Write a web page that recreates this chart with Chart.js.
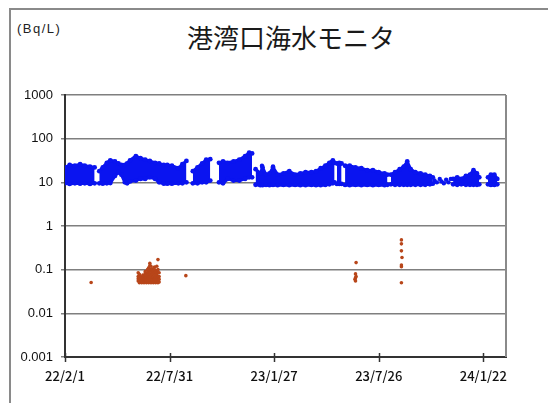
<!DOCTYPE html>
<html>
<head>
<meta charset="utf-8">
<script src="https://cdn.jsdelivr.net/npm/chart.js@4.4.1/dist/chart.umd.min.js"></script>
<style>
  html, body { margin: 0; padding: 0; background: #fff; }
  #wrap { position: relative; width: 548px; height: 403px; overflow: hidden; }
  #frame { position: absolute; left: 9px; top: 8px; width: 620px; height: 500px; border: 2px solid #8a8a8a; }
  #unit { position: absolute; left: 17px; top: 21px; font: 13px "Liberation Sans", Arial, sans-serif; letter-spacing: 1.5px; color: #222; }
  #title { position: absolute; left: 0; top: 18px; width: 582px; text-align: center; font: 26px "Noto Sans CJK JP", sans-serif; color: #1a1a1a; }
  canvas { position: absolute; left: 0; top: 0; }
</style>
</head>
<body>
<div id="wrap">
  <div id="frame"></div>
  <div id="unit">(Bq/L)</div>
  <div id="title">港湾口海水モニタ</div>
  <canvas id="grafico" width="548" height="403"></canvas>
</div>
<script>
// ======= Dados (dias desde 22/2/1) =======
const xTickDays = [0, 180, 360, 540, 720];
const xTickLabels = ["22/2/1", "22/7/31", "23/1/27", "23/7/26", "24/1/22"];
const yTickValues = [1000, 100, 10, 1, 0.1, 0.01, 0.001];
const yTickLabels = ["1000", "100", "10", "1", "0.1", "0.01", "0.001"];

// faixa azul (envelope superior / inferior), null = sem dados
const blueDays = [0, 8, 17, 26, 34, 43, 51, 55,
  59, 65, 72, 78, 86, 92, 97, 103, 107,
  112, 122, 130, 138, 146, 155, 162, 170,
  176, 184, 195, 202, 209, 216,
  220, 228, 236, 243, 250, 258,
  265, 272, 280, 290, 300, 310, 317, 322, 325,
  328, 336, 340, 346, 352, 358, 366, 376, 386, 396, 405, 414, 424, 432, 440, 448, 455, 461, 464, 466,
  468, 472, 476, 479,
  482, 490, 500, 510, 520, 530, 540, 550, 555, 558,
  561, 568, 576, 583, 589, 595, 603, 612, 620, 628, 633, 650,
  668, 675, 682, 690, 697, 703, 709, 713, 720,
  728, 733, 739, 744];
const blueHigh = [22, 25, 24, 26, 24, 23, 22, null,
  18, 22, 28, 32, 30, 27, 25, 25, 27,
  32, 40, 36, 33, 31, 28, 27, 25,
  25, 24, 21, 26, 31, null,
  18, 22, 27, 33, 34, null,
  28, 30, 28, 30, 33, 40, 48, 46, null,
  20, 16, 22, 15, 16, 22, 15, 16, 18, 15, 16, 17, 17, 18, 21, 24, 28, 32, 28, null,
  27, 28, 27, null,
  24, 24, 22, 21, 19, 19, 17, 16, 15, null,
  15, 17, 20, 23, 30, 20, 17, 16, 15, 14, 13, null,
  12, 13, 12, 14, 15, 19, 16, 13, null,
  13, 15, 15, 12];
const blueLow = [9.5, 9.2, 9.5, 9.3, 9.5, 9.2, 9.5, null,
  9.5, 9.3, 9.5, 9.6, 14, 17, 15, 10, 9.5,
  10.5, 11, 12, 12, 13, 12, 10, 9.3,
  9.3, 9.3, 9.5, 9.5, 10, null,
  9.5, 9.5, 10, 10, 11, null,
  10, 9.5, 12, 11, 11, 12, 13, 13, null,
  8.8, 8.6, 8.6, 8.7, 8.6, 8.7, 8.6, 8.7, 8.6, 8.7, 8.6, 8.6, 8.7, 8.6, 8.6, 8.7, 9, 9.5, 10, null,
  9.2, 9.2, 9.2, null,
  8.7, 8.6, 8.7, 8.6, 8.7, 8.6, 8.7, 8.6, 8.8, null,
  9, 8.8, 8.8, 8.8, 8.8, 8.8, 8.8, 8.8, 8.8, 9, 9.3, null,
  9, 8.8, 9, 8.8, 8.8, 8.8, 8.8, 9, null,
  9, 8.7, 8.7, 9];

// pontos azuis isolados
const blueDotDays = [636, 640, 645, 648, 652, 656, 660, 664, 358, 339, 203];
const blueDotValues = [11, 10, 12, 10.5, 9.5, 11.5, 10, 12, 23, 24, 15];

// pontos marrons
const brownDays = [45,
  126, 126, 126, 126, 128, 128, 128, 128, 130, 130, 130, 132, 132, 132,
  134, 134, 134, 134, 136, 136, 136, 138, 138, 138, 138, 138,
  140, 140, 140, 140, 142, 142, 142, 142, 142, 144, 144, 144, 144, 144, 144,
  146, 146, 146, 146, 146, 146, 146, 148, 148, 148, 148, 148, 148,
  150, 150, 150, 150, 150, 152, 152, 152, 152, 152, 154, 154, 154, 154, 154, 154,
  156, 156, 156, 156, 156, 158, 158, 158, 158, 158, 160, 160, 160, 160, 160, 160,
  162, 162, 162, 162, 208,
  499, 500, 500, 501, 500, 501,
  579, 579, 579, 580, 579, 579, 579];
const brownValues = [0.051,
  0.055, 0.062, 0.07, 0.085, 0.05, 0.058, 0.066, 0.078, 0.052, 0.06, 0.07, 0.05, 0.056, 0.064,
  0.052, 0.06, 0.068, 0.075, 0.05, 0.057, 0.063, 0.052, 0.06, 0.07, 0.08, 0.09,
  0.05, 0.058, 0.066, 0.075, 0.052, 0.06, 0.072, 0.085, 0.1, 0.05, 0.057, 0.065, 0.078, 0.09, 0.11,
  0.052, 0.06, 0.07, 0.08, 0.095, 0.125, 0.14, 0.05, 0.058, 0.068, 0.08, 0.1, 0.12,
  0.052, 0.062, 0.075, 0.09, 0.105, 0.05, 0.058, 0.066, 0.08, 0.095, 0.052, 0.06, 0.07, 0.085, 0.1, 0.115,
  0.05, 0.058, 0.068, 0.078, 0.09, 0.052, 0.06, 0.075, 0.095, 0.12, 0.05, 0.06, 0.07, 0.085, 0.1, 0.17,
  0.052, 0.06, 0.07, 0.085, 0.073,
  0.06, 0.055, 0.065, 0.07, 0.08, 0.145,
  0.05, 0.117, 0.128, 0.19, 0.27, 0.39, 0.48];

const AZUL = "#0a14f0";
const MARROM = "#b8461a";

function pares(xs, ys) {
  return xs.map((x, i) => ({ x: x, y: ys[i] }));
}

// ======= Plugin: marcas do eixo X e borda direita =======
const marcas = {
  id: "marcas",
  afterDraw(chart) {
    const ctx = chart.ctx;
    const a = chart.chartArea;
    const sx = chart.scales.x;
    ctx.save();
    ctx.strokeStyle = "#8a8a8a";
    ctx.lineWidth = 2;
    ctx.beginPath();
    ctx.moveTo(a.right, a.top);
    ctx.lineTo(a.right, a.bottom);
    ctx.stroke();
    ctx.strokeStyle = "#333";
    ctx.lineWidth = 1.5;
    xTickDays.forEach(d => {
      const px = Math.round(sx.getPixelForValue(d)) + 0.5;
      ctx.beginPath();
      ctx.moveTo(px, a.bottom - 4);
      ctx.lineTo(px, a.bottom + 5);
      ctx.stroke();
    });
    ctx.restore();
  }
};

const faixa = {
  borderColor: AZUL, backgroundColor: AZUL, pointBackgroundColor: AZUL,
  borderWidth: 3, borderJoinStyle: "round", borderCapStyle: "round",
  pointRadius: 2.4, pointBorderWidth: 0, spanGaps: false, tension: 0
};

const grafico = new Chart(document.getElementById("grafico"), {
  type: "scatter",
  data: {
    datasets: [
      Object.assign({ type: "line", data: pares(blueDays, blueLow), fill: false }, faixa),
      Object.assign({ type: "line", data: pares(blueDays, blueHigh), fill: "-1" }, faixa),
      { data: pares(blueDotDays, blueDotValues), backgroundColor: AZUL, borderWidth: 0, pointRadius: 2.2 },
      { data: pares(brownDays, brownValues), backgroundColor: MARROM, borderWidth: 0, pointRadius: 1.8 }
    ]
  },
  options: {
    responsive: false,
    animation: false,
    layout: { padding: { top: 95, right: 42, left: 0, bottom: 0 } },
    plugins: { legend: { display: false }, tooltip: { enabled: false } },
    scales: {
      x: {
        type: "linear", min: 0, max: 759,
        grid: { display: false },
        border: { display: true, color: "#333", width: 2 },
        afterBuildTicks: s => { s.ticks = xTickDays.map(v => ({ value: v })); },
        afterFit: s => { s.height = 46; },
        ticks: {
          autoSkip: false, maxRotation: 0, padding: 3, color: "#111",
          font: { family: "'Noto Sans CJK JP', sans-serif", size: 13, weight: "500" },
          callback: v => xTickLabels[xTickDays.indexOf(v)]
        }
      },
      y: {
        type: "logarithmic", min: 0.001, max: 1000,
        grid: { color: "#7f7f7f", lineWidth: 1.5, tickLength: 4 },
        border: { display: true, color: "#333", width: 2 },
        afterBuildTicks: s => { s.ticks = yTickValues.map(v => ({ value: v })); },
        afterFit: s => { s.width = 65; },
        ticks: {
          padding: 8, color: "#111",
          font: { family: "'Liberation Sans', Arial, sans-serif", size: 13 },
          callback: v => yTickLabels[yTickValues.indexOf(v)]
        }
      }
    }
  },
  plugins: [marcas]
});
</script>
</body>
</html>
